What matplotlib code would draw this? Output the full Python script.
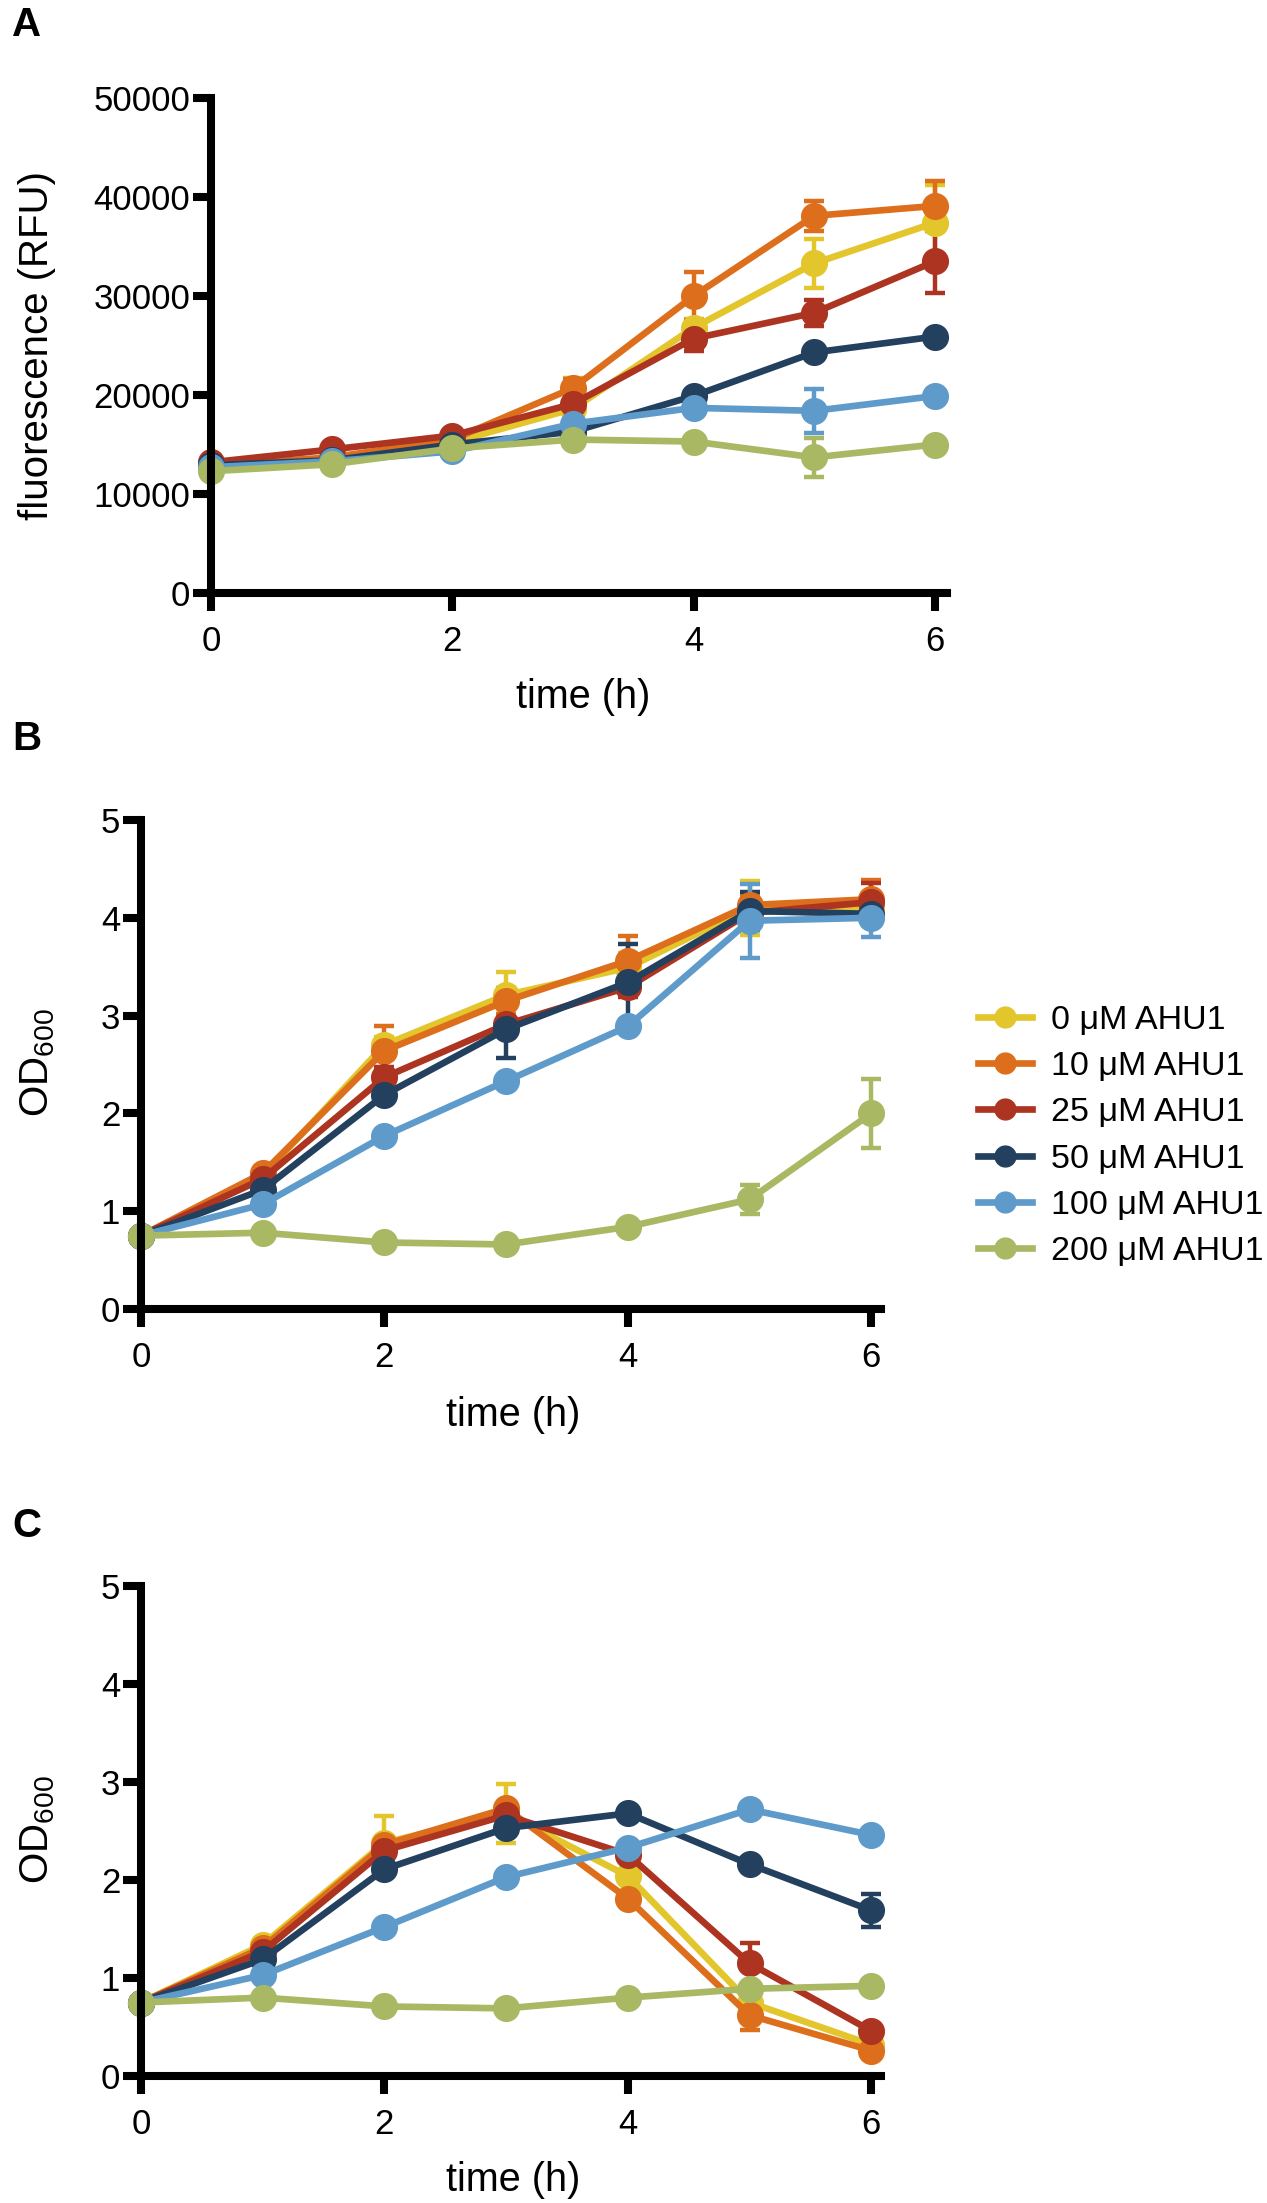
import numpy as np
import matplotlib
matplotlib.use("Agg")
from matplotlib import pyplot as plt

plt.rcParams['font.family'] = ['Liberation Sans', 'DejaVu Sans']
plt.rcParams['mathtext.fontset'] = 'custom'
plt.rcParams['mathtext.rm'] = 'Liberation Sans'
plt.rcParams['mathtext.it'] = 'Liberation Sans:italic'

# time points (h)
time = [0, 1, 2, 3, 4, 5, 6]
labels = ['0 \u03bcM AHU1', '10 \u03bcM AHU1', '25 \u03bcM AHU1',
          '50 \u03bcM AHU1', '100 \u03bcM AHU1', '200 \u03bcM AHU1']
colors = ['#E3C52C', '#DD6F1C', '#AC3420', '#23405E', '#5E9BCB', '#A9B863']

# panel A: fluorescence (RFU), mean and SD per concentration
fluo_0 = [12800, 13600, 15200, 18600, 26800, 33300, 37400]
fluo_10 = [12900, 13700, 15500, 20700, 30000, 38100, 39100]
fluo_25 = [13200, 14500, 15900, 19100, 25700, 28300, 33500]
fluo_50 = [12900, 13400, 15000, 16300, 19900, 24300, 25900]
fluo_100 = [12700, 13300, 14300, 17100, 18700, 18400, 19900]
fluo_200 = [12300, 13000, 14600, 15500, 15300, 13700, 15000]
fluo_sd_0 = [300, 300, 300, 3100, 900, 2500, 3800]
fluo_sd_10 = [300, 300, 300, 900, 2400, 1500, 2500]
fluo_sd_25 = [300, 400, 300, 500, 1300, 1300, 3200]
fluo_sd_50 = [200, 300, 300, 300, 400, 500, 500]
fluo_sd_100 = [200, 300, 300, 400, 500, 2200, 400]
fluo_sd_200 = [200, 300, 300, 300, 400, 2000, 400]

# panel B: OD600
odB_0 = [0.75, 1.36, 2.70, 3.21, 3.49, 4.10, 4.10]
odB_10 = [0.75, 1.39, 2.64, 3.15, 3.56, 4.13, 4.19]
odB_25 = [0.75, 1.33, 2.37, 2.91, 3.29, 4.05, 4.16]
odB_50 = [0.75, 1.22, 2.19, 2.86, 3.34, 4.07, 4.04]
odB_100 = [0.75, 1.07, 1.77, 2.33, 2.89, 3.97, 4.00]
odB_200 = [0.75, 0.78, 0.68, 0.66, 0.84, 1.12, 2.00]
odB_sd_0 = [0.02, 0.03, 0.08, 0.24, 0.15, 0.28, 0.10]
odB_sd_10 = [0.02, 0.05, 0.25, 0.13, 0.25, 0.10, 0.20]
odB_sd_25 = [0.02, 0.05, 0.10, 0.05, 0.10, 0.10, 0.20]
odB_sd_50 = [0.02, 0.05, 0.05, 0.29, 0.39, 0.19, 0.10]
odB_sd_100 = [0.02, 0.05, 0.05, 0.05, 0.05, 0.38, 0.20]
odB_sd_200 = [0.02, 0.03, 0.03, 0.03, 0.05, 0.15, 0.35]

# panel C: OD600
odC_0 = [0.75, 1.34, 2.38, 2.68, 2.04, 0.75, 0.32]
odC_10 = [0.75, 1.31, 2.36, 2.73, 1.81, 0.62, 0.26]
odC_25 = [0.75, 1.27, 2.30, 2.66, 2.26, 1.15, 0.46]
odC_50 = [0.75, 1.19, 2.11, 2.53, 2.68, 2.16, 1.69]
odC_100 = [0.75, 1.03, 1.52, 2.03, 2.33, 2.72, 2.46]
odC_200 = [0.75, 0.80, 0.71, 0.69, 0.80, 0.89, 0.92]
odC_sd_0 = [0.02, 0.04, 0.27, 0.30, 0.05, 0.05, 0.03]
odC_sd_10 = [0.02, 0.04, 0.05, 0.05, 0.05, 0.15, 0.03]
odC_sd_25 = [0.02, 0.04, 0.05, 0.05, 0.05, 0.21, 0.05]
odC_sd_50 = [0.02, 0.04, 0.05, 0.05, 0.05, 0.05, 0.17]
odC_sd_100 = [0.02, 0.04, 0.05, 0.05, 0.05, 0.05, 0.05]
odC_sd_200 = [0.02, 0.03, 0.03, 0.03, 0.03, 0.05, 0.05]

fluo = [fluo_0, fluo_10, fluo_25, fluo_50, fluo_100, fluo_200]
fluo_sd = [fluo_sd_0, fluo_sd_10, fluo_sd_25, fluo_sd_50, fluo_sd_100, fluo_sd_200]
odB = [odB_0, odB_10, odB_25, odB_50, odB_100, odB_200]
odB_sd = [odB_sd_0, odB_sd_10, odB_sd_25, odB_sd_50, odB_sd_100, odB_sd_200]
odC = [odC_0, odC_10, odC_25, odC_50, odC_100, odC_200]
odC_sd = [odC_sd_0, odC_sd_10, odC_sd_25, odC_sd_50, odC_sd_100, odC_sd_200]

W, H = 1267, 2203
fig = plt.figure(figsize=(W / 100, H / 100), dpi=100)


def px_axes(x0, x1, y_top, y_bot):
    return fig.add_axes([x0 / W, 1 - y_bot / H, (x1 - x0) / W, (y_bot - y_top) / H])


def style(ax, xmax, ymax, yticks):
    for s in ['top', 'right']:
        ax.spines[s].set_visible(False)
    for s in ['left', 'bottom']:
        ax.spines[s].set_linewidth(5.8)
    ax.set_xlim(0, xmax)
    ax.set_ylim(0, ymax)
    ax.set_xticks([0, 2, 4, 6])
    ax.set_yticks(yticks)
    ax.tick_params(axis='both', length=13, width=5.8, labelsize=25)
    ax.tick_params(axis='x', pad=10)
    ax.tick_params(axis='y', pad=2)


def draw(ax, data, sds):
    for vals, sd, c, lab in zip(data, sds, colors, labels):
        ax.errorbar(time, vals, yerr=sd, color=c, lw=4.8, marker='o', ms=18.5,
                    elinewidth=3.2, capsize=7.5, capthick=3.2, label=lab, clip_on=False)


# A
axA = px_axes(211, 947, 98, 593)
draw(axA, fluo, fluo_sd)
style(axA, 6.1, 50000, [0, 10000, 20000, 30000, 40000, 50000])

# B
axB = px_axes(141, 881, 820, 1309)
draw(axB, odB, odB_sd)
style(axB, 6.08, 5, [0, 1, 2, 3, 4, 5])

# C
axC = px_axes(141, 881, 1586, 2076)
draw(axC, odC, odC_sd)
style(axC, 6.08, 5, [0, 1, 2, 3, 4, 5])

# legend for B, no error bars in handles
handles = [plt.Line2D([], [], color=c, lw=4.8, marker='o', ms=15) for c in colors]
fig.legend(handles, labels, loc='center left', bbox_to_anchor=(978 / W, 1 - 1136 / H),
           frameon=False, fontsize=24.5, handlelength=1.6, handletextpad=0.55,
           labelspacing=0.45, borderaxespad=0, borderpad=0)

# axis labels
fig.text(583 / W, 1 - 697 / H, 'time (h)', fontsize=28.5, ha='center', va='center')
fig.text(513 / W, 1 - 1415 / H, 'time (h)', fontsize=28.5, ha='center', va='center')
fig.text(513 / W, 1 - 2180 / H, 'time (h)', fontsize=28.5, ha='center', va='center')
fig.text(37 / W, 1 - 345 / H, 'fluorescence (RFU)', fontsize=29, rotation=90,
         ha='center', va='center')
fig.text(38 / W, 1 - 1063 / H, r'OD$_{600}$', fontsize=29, rotation=90,
         ha='center', va='center')
fig.text(38 / W, 1 - 1830 / H, r'OD$_{600}$', fontsize=29, rotation=90,
         ha='center', va='center')

# panel letters
for letter, y in [('A', 25), ('B', 739), ('C', 1526)]:
    fig.text(12 / W, 1 - y / H, letter, fontsize=29, fontweight='bold',
             ha='left', va='center')

fig.savefig('out.png', dpi=100)
